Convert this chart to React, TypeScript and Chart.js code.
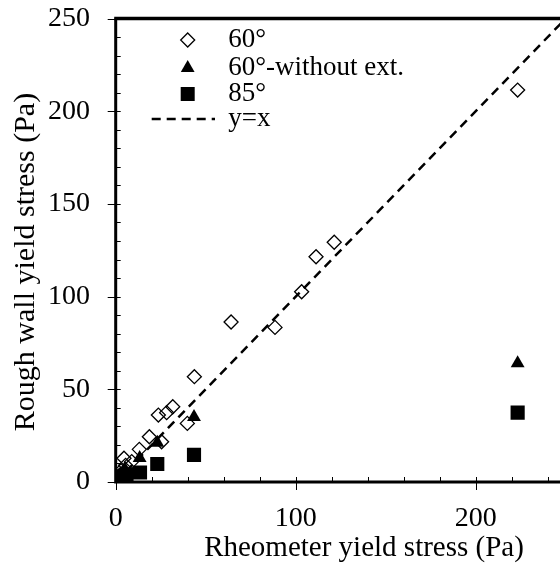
import React, { useEffect, useRef } from "react";
import { Chart, registerables } from "chart.js";

Chart.register(...registerables);

// Rheometer yield stress (Pa) vs rough wall yield stress (Pa)
const DEG60_X = [223.3, 121.4, 111.3, 103.3, 88.5, 64.1, 43.7, 39.8, 31.7, 28.3, 23.7, 25.5, 18.7, 13.1, 8.9, 4.6, 5.5, 3, 2, 1];
const DEG60_Y = [211.4, 129.3, 121.5, 102.6, 83.4, 86.3, 56.8, 31.6, 40.6, 37.4, 36.1, 21.7, 24.4, 17.6, 11, 12.8, 9, 6, 3.5, 1.5];

const DEG60_NOEXT_X = [223.3, 43.5, 23.1, 13.3, 5, 3, 1.5, 0.8];
const DEG60_NOEXT_Y = [64, 35, 21.2, 13, 7, 4.5, 2.5, 1];

const DEG85_X = [223.3, 43.5, 23.1, 13.5, 6, 4, 2, 1, 0.5];
const DEG85_Y = [37.4, 14.6, 9.7, 5.1, 4, 2.5, 1.5, 3, 1];

const IDENTITY_X = [0, 250];

const X_TICKS = [0, 100, 200];
const Y_TICKS = [0, 50, 100, 150, 200, 250];

const LEGEND_LABELS = ["60°", "60°-without ext.", "85°", "y=x"];
const X_TITLE = "Rheometer yield stress (Pa)";
const Y_TITLE = "Rough wall yield stress (Pa)";

const FONT = '"Liberation Serif", "Times New Roman", serif';

const toPoints = (xs: number[], ys: number[]) => xs.map((x, i) => ({ x, y: ys[i] }));

const framePlugin = {
  id: "frame",
  afterDraw(chart: any) {
    const { ctx, chartArea, scales } = chart;
    const { left, right, top, bottom } = chartArea;
    const xs = scales.x;
    const ys = scales.y;
    ctx.save();
    ctx.strokeStyle = "#000";
    ctx.fillStyle = "#000";

    // minor / major ticks
    ctx.lineWidth = 1;
    ctx.beginPath();
    for (let v = 0; v <= 250; v += 10) {
      const py = Math.round(ys.getPixelForValue(v)) + 0.5;
      const major = v % 50 === 0;
      ctx.moveTo(major ? left - 8 : left, py);
      ctx.lineTo(left + 5, py);
    }
    for (let v = 0; v <= 250; v += 20) {
      const px = Math.round(xs.getPixelForValue(v)) + 0.5;
      ctx.moveTo(px, bottom - 5);
      ctx.lineTo(px, v % 100 === 0 ? bottom + 8 : bottom);
    }
    ctx.stroke();

    // axes and frame
    ctx.lineWidth = 3;
    ctx.beginPath();
    ctx.moveTo(left, top);
    ctx.lineTo(left, bottom);
    ctx.moveTo(left - 1.5, bottom);
    ctx.lineTo(right + 1.5, bottom);
    ctx.moveTo(right, bottom);
    ctx.lineTo(right, top);
    ctx.stroke();
    ctx.lineWidth = 3.5;
    ctx.beginPath();
    ctx.moveTo(left - 1.5, top);
    ctx.lineTo(right + 1.5, top);
    ctx.stroke();

    // axis titles
    ctx.textAlign = "center";
    ctx.textBaseline = "middle";
    ctx.font = `29px ${FONT}`;
    ctx.fillText(X_TITLE, 356, 540);
    ctx.save();
    ctx.font = `30px ${FONT}`;
    ctx.translate(18, 254);
    ctx.rotate(-Math.PI / 2);
    ctx.fillText(Y_TITLE, 0, 0);
    ctx.restore();

    // legend
    const mx = 179.7;
    const tx = 220.3;
    const rows = [32, 60, 86, 111];
    ctx.font = `27px ${FONT}`;
    ctx.textAlign = "left";
    ctx.textBaseline = "middle";
    LEGEND_LABELS.forEach((label, i) => ctx.fillText(label, tx, rows[i]));

    // diamond
    ctx.lineWidth = 1.3;
    ctx.beginPath();
    ctx.moveTo(mx, rows[0] - 7);
    ctx.lineTo(mx + 7, rows[0]);
    ctx.lineTo(mx, rows[0] + 7);
    ctx.lineTo(mx - 7, rows[0]);
    ctx.closePath();
    ctx.stroke();
    // triangle
    ctx.beginPath();
    ctx.moveTo(mx, rows[1] - 8);
    ctx.lineTo(mx + 6.9, rows[1] + 4);
    ctx.lineTo(mx - 6.9, rows[1] + 4);
    ctx.closePath();
    ctx.fill();
    // square
    ctx.fillRect(mx - 7, rows[2] - 7, 14, 14);
    // dashed line
    ctx.lineWidth = 2.5;
    ctx.setLineDash([9, 6]);
    ctx.beginPath();
    ctx.moveTo(143.7, rows[3]);
    ctx.lineTo(207, rows[3]);
    ctx.stroke();
    ctx.restore();
  },
};

export default function App() {
  const canvasRef = useRef<HTMLCanvasElement | null>(null);

  useEffect(() => {
    const canvas = canvasRef.current;
    if (!canvas) return;
    const chart = new Chart(canvas, {
      type: "scatter",
      data: {
        datasets: [
          {
            label: LEGEND_LABELS[2],
            data: toPoints(DEG85_X, DEG85_Y),
            pointStyle: "rect",
            pointRadius: 10,
            backgroundColor: "#000",
            borderColor: "#000",
            borderWidth: 0,
          },
          {
            label: LEGEND_LABELS[1],
            data: toPoints(DEG60_NOEXT_X, DEG60_NOEXT_Y),
            pointStyle: "triangle",
            pointRadius: 8,
            backgroundColor: "#000",
            borderColor: "#000",
            borderWidth: 0,
          },
          {
            label: LEGEND_LABELS[0],
            data: toPoints(DEG60_X, DEG60_Y),
            pointStyle: "rectRot",
            pointRadius: 7,
            backgroundColor: "rgba(0,0,0,0)",
            borderColor: "#000",
            borderWidth: 1.3,
          },
          {
            type: "line",
            label: LEGEND_LABELS[3],
            data: toPoints(IDENTITY_X, IDENTITY_X),
            borderColor: "#000",
            borderWidth: 2.5,
            borderDash: [9, 6],
            pointRadius: 0,
            fill: false,
          } as any,
        ],
      },
      options: {
        animation: false,
        responsive: false,
        devicePixelRatio: 1,
        layout: { padding: { left: 0, top: 10.5, right: 42.3, bottom: 0 } },
        plugins: { legend: { display: false }, tooltip: { enabled: false } },
        scales: {
          x: {
            type: "linear",
            min: 0,
            max: 250,
            grid: { display: false, drawTicks: false },
            border: { display: false },
            ticks: {
              font: { family: FONT, size: 28 },
              color: "#000",
              padding: 20,
              maxRotation: 0,
            },
            afterBuildTicks: (s: any) => {
              s.ticks = X_TICKS.map((value) => ({ value }));
            },
            afterFit: (s: any) => {
              s.height = 86;
              s.paddingLeft = 0;
              s.paddingRight = 0;
            },
          },
          y: {
            type: "linear",
            min: 0,
            max: 250,
            grid: { display: false, drawTicks: false },
            border: { display: false },
            ticks: {
              font: { family: FONT, size: 28 },
              color: "#000",
              padding: 25.7,
            },
            afterBuildTicks: (s: any) => {
              s.ticks = Y_TICKS.map((value) => ({ value }));
            },
            afterFit: (s: any) => {
              s.width = 107.7;
              s.paddingTop = 0;
              s.paddingBottom = 0;
            },
          },
        },
      },
      plugins: [framePlugin],
    });
    return () => chart.destroy();
  }, []);

  return (
    <div
      style={{
        position: "fixed",
        left: 8,
        top: 8,
        width: 552,
        height: 560,
        overflow: "hidden",
      }}
    >
      <canvas ref={canvasRef} width={600} height={560} style={{ display: "block" }} />
    </div>
  );
}
